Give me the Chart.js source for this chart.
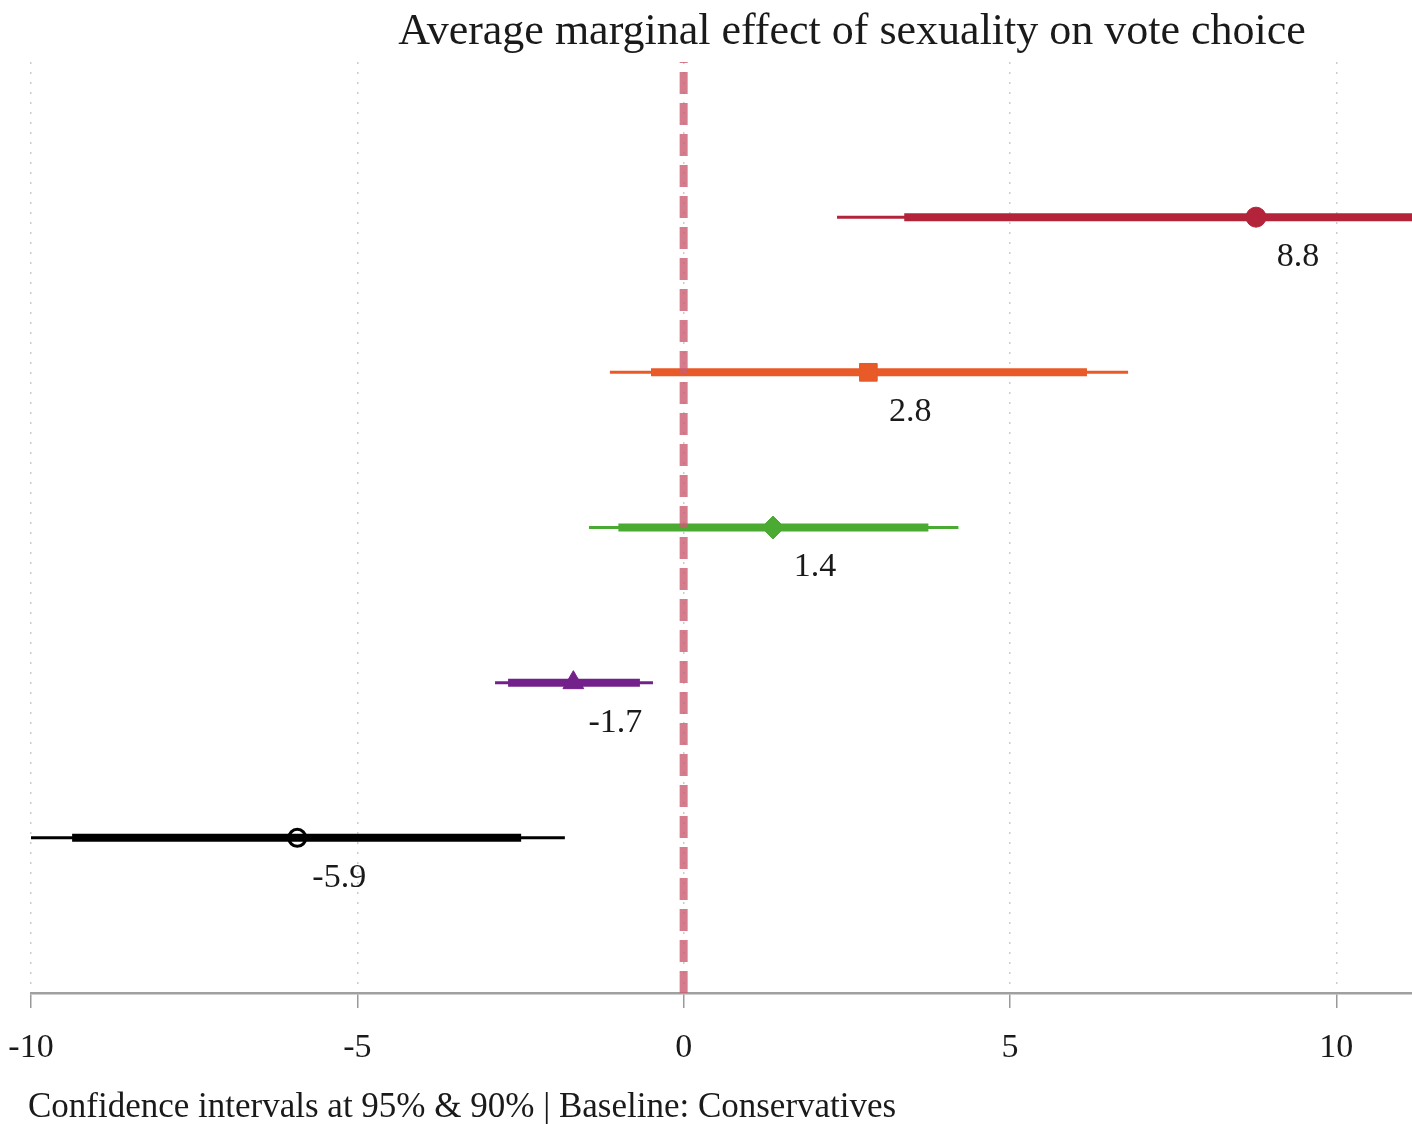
<!DOCTYPE html>
<html>
<head>
<meta charset="utf-8">
<script src="https://cdn.jsdelivr.net/npm/chart.js@4/dist/chart.umd.min.js"></script>
<style>
  html, body { margin: 0; padding: 0; background: #fff; overflow: hidden; }
  #wrap { width: 1412px; height: 1124px; position: relative; }
  canvas { display: block; }
</style>
</head>
<body>
<div id="wrap"><canvas id="myChart"></canvas></div>
<script>
// rows from top (5) to bottom (1)
const rows = [5, 4, 3, 2, 1];
const estimates = [8.77, 2.83, 1.37, -1.69, -5.92];
const lo95 = [2.35, -1.13, -1.45, -2.89, -10.03];
const hi95 = [15.25, 6.81, 4.21, -0.47, -1.82];
const lo90 = [3.38, -0.5, -1.0, -2.69, -9.37];
const hi90 = [14.2, 6.18, 3.75, -0.67, -2.49];
const colors = ['#b3243a', '#e85a28', '#4aaa32', '#74208a', '#000000'];
const markers = ['circle', 'rect', 'rectRot', 'triangle', 'circle'];
const xTicks = [-10, -5, 0, 5, 10];

const titleText = 'Average marginal effect of sexuality on vote choice';
const captionText = 'Confidence intervals at 95% & 90% | Baseline: Conservatives';
const serif = '"Liberation Serif", "DejaVu Serif", serif';

let datasets = [];

// zero reference line
datasets.push({
    data: [{x: 0, y: 0}, {x: 0, y: 6}],
    showLine: true,
    borderColor: 'rgba(204, 92, 112, 0.8)',
    borderWidth: 8,
    borderDash: [22, 9],
    borderCapStyle: 'butt',
    pointRadius: 0,
    order: 1
});

rows.forEach((r, i) => {
    // 95% interval, thin
    datasets.push({
        data: [{x: lo95[i], y: r}, {x: hi95[i], y: r}],
        showLine: true,
        borderColor: colors[i],
        borderWidth: 3,
        borderCapStyle: 'butt',
        pointRadius: 0,
        order: 3
    });
    // 90% interval, thick
    datasets.push({
        data: [{x: lo90[i], y: r}, {x: hi90[i], y: r}],
        showLine: true,
        borderColor: colors[i],
        borderWidth: 8,
        borderCapStyle: 'butt',
        pointRadius: 0,
        order: 2
    });
});

// point estimates
datasets.push({
    data: rows.map((r, i) => ({x: estimates[i], y: r})),
    pointStyle: markers,
    pointRadius: [10, 12.5, 11.5, 12, 8.5],
    backgroundColor: colors.map((c, i) => i === 4 ? 'rgba(0,0,0,0)' : c),
    borderColor: colors,
    borderWidth: [1, 1, 1, 1, 3],
    order: 0
});

const textPlugin = {
    id: 'texts',
    afterDraw(chart) {
        const {ctx, scales: {x, y}} = chart;
        ctx.save();
        ctx.fillStyle = '#1a1a1a';
        ctx.textAlign = 'center';
        ctx.textBaseline = 'middle';
        ctx.font = '34px ' + serif;
        estimates.forEach((v, i) => {
            ctx.fillText(v.toFixed(1), x.getPixelForValue(v) + 42, y.getPixelForValue(rows[i]) + 40);
        });
        ctx.font = '44px ' + serif;
        ctx.fillText(titleText, 852, 32);
        ctx.textAlign = 'left';
        ctx.font = '35px ' + serif;
        ctx.fillText(captionText, 28, 1108);
        ctx.restore();
    }
};

let ctx = document.getElementById('myChart').getContext('2d');
let myChart = new Chart(ctx, {
    type: 'scatter',
    data: { datasets: datasets },
    options: {
        responsive: true,
        maintainAspectRatio: false,
        animation: false,
        layout: { autoPadding: false, padding: { top: 62, left: 31, right: 0, bottom: 0 } },
        plugins: {
            legend: { display: false },
            tooltip: { enabled: false }
        },
        scales: {
            x: {
                type: 'linear',
                min: -10,
                max: 11.16,
                afterBuildTicks: scale => { scale.ticks = xTicks.map(v => ({value: v})); },
                afterFit: scale => {
                    scale.height = 131;
                    scale.paddingLeft = 0;
                    scale.paddingRight = 0;
                },
                grid: {
                    color: '#cccccc',
                    lineWidth: 1.5,
                    tickLength: 15,
                    tickColor: '#999',
                    tickWidth: 1.5
                },
                border: { color: '#a0a0a0', width: 2.5, dash: [2, 8] },
                ticks: {
                    padding: 20,
                    color: '#1a1a1a',
                    font: { family: serif, size: 34 },
                    maxRotation: 0
                }
            },
            y: {
                type: 'linear',
                min: 0,
                max: 6,
                display: false
            }
        }
    },
    plugins: [textPlugin]
});
</script>
</body>
</html>
